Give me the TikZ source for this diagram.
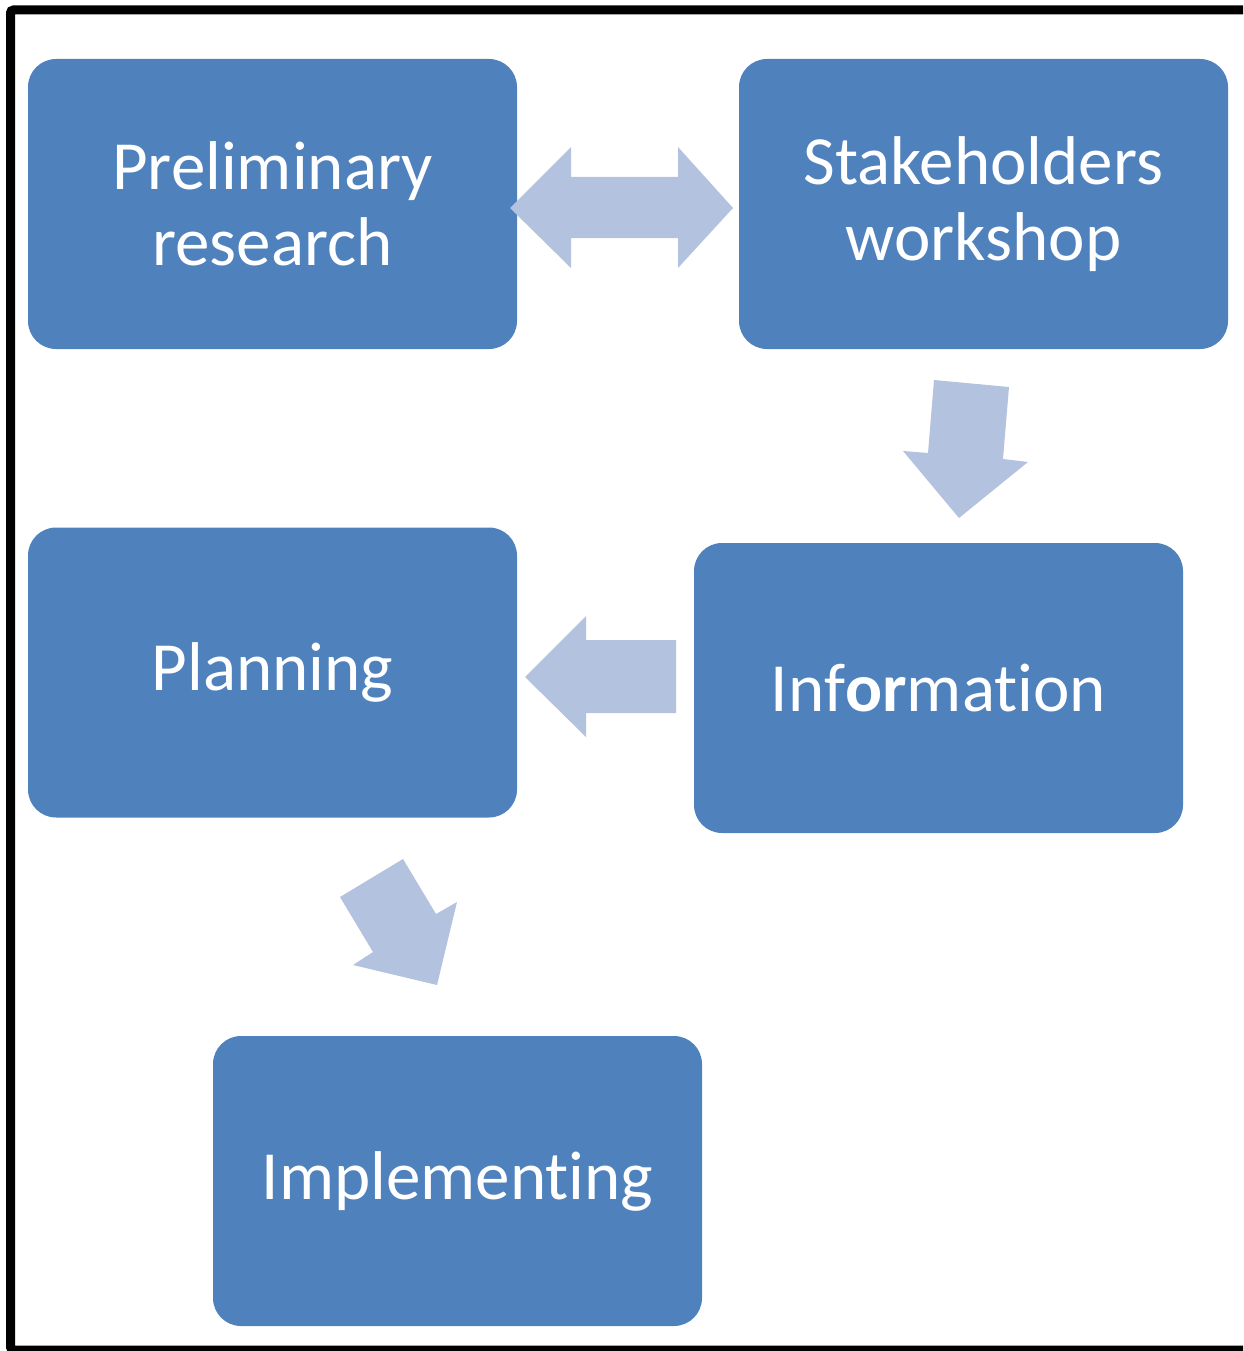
\documentclass[tikz,border=0pt]{standalone}
\usepackage{fontspec}
\setmainfont{Carlito}[RawFeature={-liga;-clig;-calt;-dlig}]
\definecolor{boxblue}{RGB}{79,129,189}
\definecolor{arrowblue}{RGB}{179,194,222}
% keep "t" and "i" as separate glyphs
\newcommand{\splitti}{t\kern0pt i}
\begin{document}
\begin{tikzpicture}[x=1pt,y=-1pt,
  stagebox/.style={fill=boxblue, rounded corners=28pt, minimum width=489pt,
    minimum height=290pt, inner sep=0pt, text=white, align=center,
    font=\fontsize{69}{76}\selectfont},
  blockarrow/.style={fill=arrowblue}]
\useasboundingbox (0,0) rectangle (1243,1351);
\clip (0,0) rectangle (1243,1351);

% outer frame
\draw[line width=9pt, rounded corners=3pt] (10.5,10) rectangle (1262,1350);

% process stages
\node[stagebox] (prelim) at (272.5,204)   {Preliminary\\research};
\node[stagebox] (stake)  at (983.5,204)   {Stakeholders\\workshop};
\node[stagebox] (info)   at (938.5,688)   {Inf\textbf{or}ma\splitti on};
\node[stagebox] (plan)   at (272.5,672.5) {Planning};
\node[stagebox] (impl)   at (457.5,1181)  {Implemen\splitti ng};

% block arrows between the stages
\fill[blockarrow] (510,208) -- (571,147) -- (571,177) -- (678,177) -- (678,147)
  -- (733,208) -- (678,268) -- (678,238) -- (571,238) -- (571,268) -- cycle;
\fill[blockarrow] (934,380) -- (1009,387) -- (1003,459) -- (1028,462)
  -- (959,518) -- (903,451) -- (928,453) -- cycle;
\fill[blockarrow] (525,677) -- (586,616) -- (586,640) -- (676,640)
  -- (676,713) -- (586,713) -- (586,737) -- cycle;
\fill[blockarrow] (340,897) -- (403,859) -- (436,914) -- (457,902)
  -- (437,985) -- (353,965) -- (373,952) -- cycle;
\end{tikzpicture}
\end{document}
